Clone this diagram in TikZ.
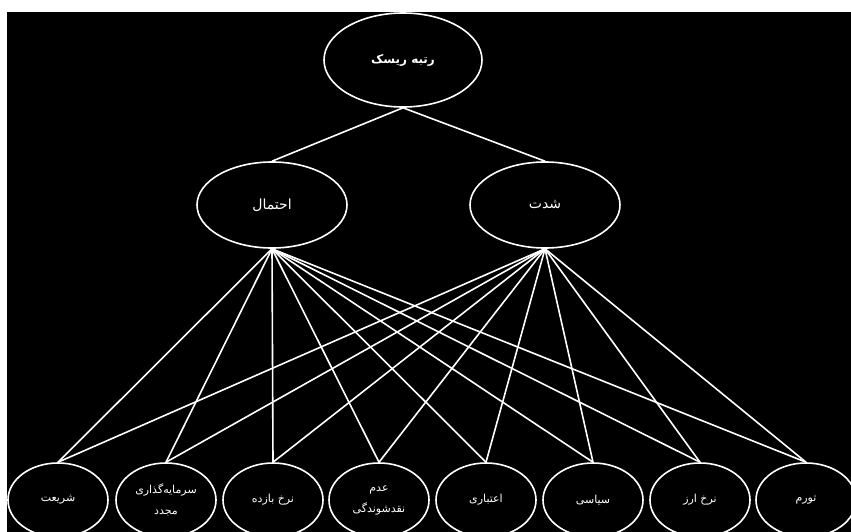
\documentclass[tikz,border=0pt]{standalone}
\usepackage{fontspec}
\usetikzlibrary{shapes.geometric}
\TeXXeTstate=1
\newfontfamily\farsi[Script=Arabic]{DejaVu Sans}

\begin{document}
\begin{tikzpicture}[x=1pt,y=-1pt]
				\tikzstyle{vertex}=[ellipse,draw=white,line width=1.6pt,text=white,inner sep=0pt,align=center,minimum width=100pt,minimum height=74pt,font=\farsi\fontsize{11}{21}\selectfont]
				\tikzstyle{vertexmid}=[vertex,minimum width=150pt,minimum height=86pt,font=\farsi\fontsize{14}{16}\selectfont]
				\tikzstyle{vertextop}=[vertex,minimum width=158pt,minimum height=94pt,font=\farsi\bfseries\fontsize{12}{15}\selectfont]
				\useasboundingbox (0,0) rectangle (851,532);
				\fill[white] (0,0) rectangle (851,532);
				\fill[black] (7,12) rectangle (851,532);
				\node[vertextop](v1) at (403,60){\beginR رتبه ریسک\endR};
				\node[vertexmid](v2) at (272,205){\beginR احتمال\endR};
				\node[vertexmid](v3) at (545,205){\beginR شدت\endR};
				\node[vertex](v4) at (58,500){\beginR شریعت\endR};
				\node[vertex](v5) at (166,500){\beginR سرمایه‌گذاری\endR\\\beginR مجدد\endR};
				\node[vertex](v6) at (273,500){\beginR نرخ بازده\endR};
				\node[vertex](v7) at (379,500){\beginR عدم\endR\\\beginR نقدشوندگی\endR};
				\node[vertex](v8) at (486,500){\beginR اعتباری\endR};
				\node[vertex](v9) at (593,500){\beginR سیاسی\endR};
				\node[vertex](v10) at (700,500){\beginR نرخ ارز\endR};
				\node[vertex](v11) at (806,500){\beginR تورم\endR};
				\path[white,line width=1.6pt]
					(v1.south) edge (v2.north)
					(v1.south) edge (v3.north)
					(v2.south) edge (v4.north)
					(v2.south) edge (v5.north)
					(v2.south) edge (v6.north)
					(v2.south) edge (v7.north)
					(v2.south) edge (v8.north)
					(v2.south) edge (v9.north)
					(v2.south) edge (v10.north)
					(v2.south) edge (v11.north)
					(v3.south) edge (v4.north)
					(v3.south) edge (v5.north)
					(v3.south) edge (v6.north)
					(v3.south) edge (v7.north)
					(v3.south) edge (v8.north)
					(v3.south) edge (v9.north)
					(v3.south) edge (v10.north)
					(v3.south) edge (v11.north);
			\end{tikzpicture}
\end{document}
